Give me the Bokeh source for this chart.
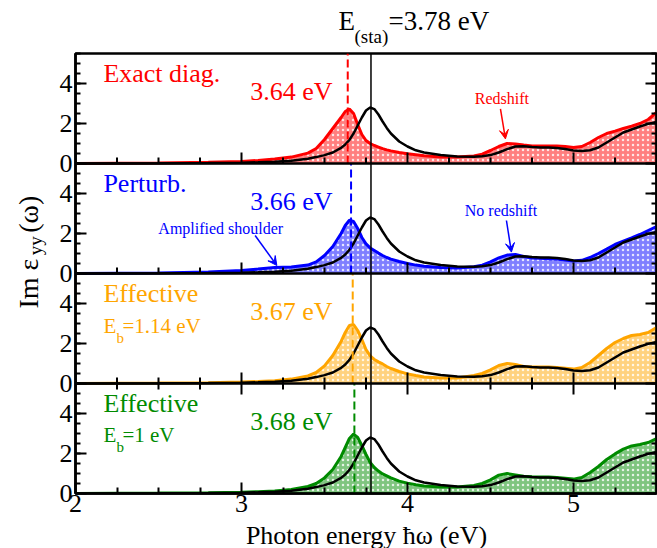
import numpy as np
from bokeh.plotting import figure
from bokeh.layouts import column, row
from bokeh.models import (Range1d, FixedTicker, CustomJSTickFormatter, LinearAxis,
                          Span, Label, Arrow, VeeHead)
from bokeh.core.properties import value
from bokeh.embed import file_html
from bokeh.resources import INLINE

# ---------------- data ----------------
energy = [2.0, 2.5, 2.8, 3.0, 3.1, 3.2, 3.3, 3.4, 3.45, 3.5, 3.55, 3.6, 3.625, 3.65,
          3.675, 3.7, 3.725, 3.75, 3.775, 3.8, 3.825, 3.85, 3.875, 3.9, 3.95, 4.0,
          4.05, 4.1, 4.2, 4.3, 4.4, 4.45, 4.5, 4.55, 4.6, 4.65, 4.7, 4.75, 4.8, 4.85,
          4.9, 4.95, 5.0, 5.05, 5.1, 5.15, 5.2, 5.25, 5.3, 5.35, 5.4, 5.45, 5.5]

static = [0.0, 0.01, 0.02, 0.04, 0.06, 0.09, 0.14, 0.24, 0.32, 0.42, 0.55, 0.78, 0.95, 1.18,
          1.5, 1.9, 2.3, 2.65, 2.8, 2.72, 2.45, 2.1, 1.78, 1.5, 1.1, 0.85,
          0.66, 0.55, 0.42, 0.35, 0.34, 0.36, 0.42, 0.55, 0.72, 0.85, 0.86, 0.82, 0.8, 0.8,
          0.78, 0.72, 0.65, 0.62, 0.66, 0.8, 1.05, 1.3, 1.55, 1.7, 1.85, 1.98, 2.08]

exact_diag = [0.0, 0.03, 0.06, 0.1, 0.15, 0.22, 0.32, 0.52, 0.75, 1.2, 1.75, 2.3, 2.6, 2.72,
              2.5, 1.95, 1.45, 1.15, 1.0, 0.9, 0.82, 0.74, 0.68, 0.63, 0.55, 0.49,
              0.44, 0.39, 0.33, 0.32, 0.38, 0.47, 0.65, 0.85, 1.0, 0.98, 0.92, 0.88, 0.88, 0.88,
              0.88, 0.85, 0.8, 0.85, 1.05, 1.3, 1.5, 1.62, 1.75, 1.87, 2.0, 2.2, 2.55]

perturb = [0.0, 0.03, 0.08, 0.15, 0.22, 0.3, 0.32, 0.42, 0.58, 0.9, 1.35, 2.0, 2.4, 2.66,
           2.6, 2.25, 1.8, 1.48, 1.28, 1.15, 1.02, 0.9, 0.8, 0.72, 0.6, 0.5,
           0.42, 0.36, 0.3, 0.28, 0.34, 0.42, 0.58, 0.78, 0.92, 0.95, 0.85, 0.78, 0.76, 0.74,
           0.72, 0.68, 0.62, 0.66, 0.8, 1.0, 1.22, 1.45, 1.62, 1.78, 1.95, 2.15, 2.35]

effective_114 = [0.0, 0.02, 0.04, 0.07, 0.1, 0.14, 0.22, 0.38, 0.55, 0.88, 1.4, 2.1, 2.55, 2.9,
                 2.95, 2.65, 2.2, 1.7, 1.38, 1.2, 1.08, 0.98, 0.85, 0.75, 0.6, 0.48,
                 0.4, 0.33, 0.28, 0.28, 0.4, 0.5, 0.68, 0.9, 1.0, 0.95, 0.85, 0.83, 0.82, 0.82,
                 0.8, 0.76, 0.72, 0.8, 1.05, 1.4, 1.75, 2.05, 2.25, 2.4, 2.45, 2.55, 2.8]

effective_100 = [0.0, 0.02, 0.04, 0.06, 0.09, 0.13, 0.2, 0.35, 0.5, 0.78, 1.2, 1.85, 2.3, 2.75,
                 2.97, 2.8, 2.4, 1.95, 1.55, 1.3, 1.12, 0.98, 0.88, 0.78, 0.62, 0.52,
                 0.44, 0.38, 0.33, 0.32, 0.4, 0.5, 0.68, 0.92, 1.0, 0.93, 0.86, 0.84, 0.83, 0.82,
                 0.8, 0.76, 0.72, 0.8, 1.05, 1.35, 1.7, 1.98, 2.22, 2.38, 2.45, 2.55, 2.75]

E_static = 3.78
peak_energies = [3.64, 3.66, 3.67, 3.68]
panel_series = [exact_diag, perturb, effective_114, effective_100]
panel_names = ["Exact diag.", "Perturb.", "Effective", "Effective"]
eb_values = [None, None, "=1.14 eV", "=1 eV"]
colors = ["#ff0000", "#0000ff", "#ffa500", "#008b00"]
x_ticks = [2, 3, 4, 5]
y_ticks = [0, 2, 4]
PANEL_TOP = 5.5

FONT = "Liberation Serif"
MID = 0.3375          # baseline -> middle shift, in em, for Liberation Serif
N = len(panel_series)

W_TOTAL, H_TOTAL = 657, 548
TITLE_H = 52
YLAB_W = 50
MAIN_H = 471
XLAB_H = H_TOTAL - TITLE_H - MAIN_H
MAIN_W = W_TOTAL - YLAB_W
PX_PER_Y = 20.0       # 440 px frame / 22 units


def strip(w, h):
    f = figure(width=w, height=h, x_range=Range1d(0, w), y_range=Range1d(0, h), title=None,
               output_backend="svg", toolbar_location=None, x_axis_type=None, y_axis_type=None,
               min_border=0, min_border_left=0, min_border_right=0, min_border_top=0, min_border_bottom=0)
    f.outline_line_color = None
    f.xgrid.visible = False
    f.ygrid.visible = False
    return f


def txt(fig, x, y_base, s, size, color="black", align="left", angle=0.0):
    """draw text with its baseline at y_base (in pixel strip coords, y up)"""
    if angle == 0.0:
        xx, yy = x, y_base + MID * size
    else:
        xx, yy = x - MID * size, y_base
    fig.text(x=[xx], y=[yy], text=[s], angle=angle, text_font=value(FONT),
             text_font_size=value("%dpx" % size), text_color=color,
             text_align=align, text_baseline="middle")


p = figure(width=MAIN_W, height=MAIN_H, x_range=Range1d(2, 5.5), y_range=Range1d(0, N * PANEL_TOP),
           output_backend="svg", toolbar_location=None, title=None,
           min_border_left=25, min_border_right=1, min_border_top=1, min_border_bottom=30)
p.xgrid.visible = False
p.ygrid.visible = False
p.outline_line_color = "black"
p.outline_line_width = 2.5
p.background_fill_color = "white"

# x axis
x_minor = [t + f for t in x_ticks for f in (0.25, 0.5, 0.75) if t + f < 5.5]
p.xaxis.ticker = FixedTicker(ticks=x_ticks, minor_ticks=x_minor)
p.xaxis.major_tick_in = 11
p.xaxis.major_tick_out = 0
p.xaxis.minor_tick_in = 6
p.xaxis.minor_tick_out = 0
p.xaxis.axis_line_width = 2.5
p.xaxis.major_tick_line_width = 2
p.xaxis.minor_tick_line_width = 2
p.xaxis.major_label_text_font = FONT
p.xaxis.major_label_text_font_size = "26px"
p.xaxis.major_label_text_color = "black"
p.xaxis.major_label_standoff = 1

# y axes (left with labels, right ticks only)
y_major = [k * PANEL_TOP + t for k in range(N) for t in y_ticks]
y_minor = [k * PANEL_TOP + 0.5 * j for k in range(N) for j in range(1, 12)]
p.yaxis.ticker = FixedTicker(ticks=y_major, minor_ticks=y_minor)
p.yaxis.formatter = CustomJSTickFormatter(code="return String(Math.round(tick % 5.5));")
ax = p.yaxis[0]
ax.major_tick_in = 11
ax.major_tick_out = 0
ax.minor_tick_in = 5
ax.minor_tick_out = 0
ax.axis_line_width = 2.5
ax.major_tick_line_width = 2
ax.minor_tick_line_width = 2
ax.major_label_text_font = FONT
ax.major_label_text_font_size = "26px"
ax.major_label_text_color = "black"
ax.major_label_standoff = 3

rax = LinearAxis(ticker=FixedTicker(ticks=y_major, minor_ticks=y_minor),
                 formatter=CustomJSTickFormatter(code="return '';"),
                 major_tick_in=11, major_tick_out=0, minor_tick_in=5, minor_tick_out=0,
                 axis_line_width=2.5, major_tick_line_width=2, minor_tick_line_width=2,
                 major_label_standoff=0)
p.add_layout(rax, "right")

for k in range(1, N):
    p.add_layout(Span(location=k * PANEL_TOP, dimension="width", line_color="black", line_width=2.5))

p.add_layout(Span(location=E_static, dimension="height", line_color="black", line_width=1.5))


def dy(size):
    return MID * size / PX_PER_Y


for i in range(N):
    lo = PANEL_TOP * (N - 1 - i)
    sub = p.subplot(x_source=p.x_range, y_source=Range1d(0, PANEL_TOP),
                    x_target=p.x_range, y_target=Range1d(lo, lo + PANEL_TOP))
    col = colors[i]
    vals = panel_series[i]
    sub.varea(x=energy, y1=[0] * len(energy), y2=vals, fill_color=col, fill_alpha=0.5,
              hatch_pattern="dot", hatch_color="white", hatch_scale=5, hatch_weight=1.5, hatch_alpha=0.8)
    sub.line(energy, vals, line_color=col, line_width=3)
    sub.line(energy, static, line_color="black", line_width=2.5)
    sub.segment(x0=[peak_energies[i]], y0=[0], x1=[peak_energies[i]], y1=[PANEL_TOP],
                line_color=col, line_width=2, line_dash="8 4")
    if i < N - 1:
        sub.segment(x0=x_ticks, y0=[0] * len(x_ticks), x1=x_ticks, y1=[0.55] * len(x_ticks),
                    line_color="black", line_width=2)
        sub.segment(x0=x_minor, y0=[0] * len(x_minor), x1=x_minor, y1=[0.3] * len(x_minor),
                    line_color="black", line_width=2)
    else:
        sub.segment(x0=x_ticks, y0=[PANEL_TOP] * len(x_ticks), x1=x_ticks, y1=[PANEL_TOP - 0.55] * len(x_ticks),
                    line_color="black", line_width=2)
        sub.segment(x0=x_minor, y0=[PANEL_TOP] * len(x_minor), x1=x_minor, y1=[PANEL_TOP - 0.3] * len(x_minor),
                    line_color="black", line_width=2)

    sub.text(x=[2.168], y=[4.07 + dy(26)], text=[panel_names[i]], text_color=col,
             text_font=value(FONT), text_font_size=value("26px"),
             text_align="left", text_baseline="middle")
    sub.text(x=[3.052], y=[3.15 + dy(26)], text=["%.2f eV" % peak_energies[i]], text_color=col,
             text_font=value(FONT), text_font_size=value("26px"),
             text_align="left", text_baseline="middle")
    if eb_values[i] is not None:
        yb = 2.5 if i == 2 else 2.55
        sub.text(x=[2.168], y=[yb + dy(21)], text=["E"], text_color=col,
                 text_font=value(FONT), text_font_size=value("21px"),
                 text_align="left", text_baseline="middle")
        sub.text(x=[2.2466], y=[yb - 0.5 + dy(15)], text=["b"], text_color=col,
                 text_font=value(FONT), text_font_size=value("15px"),
                 text_align="left", text_baseline="middle")
        sub.text(x=[2.2826], y=[yb + dy(21)], text=[eb_values[i]], text_color=col,
                 text_font=value(FONT), text_font_size=value("21px"),
                 text_align="left", text_baseline="middle")


def off(i):
    return PANEL_TOP * (N - 1 - i)


notes = [
    (0, "Redshift", 4.405, 2.98, (4.56, 2.73, 4.59, 1.23)),
    (1, "No redshift", 4.345, 2.9, (4.596, 2.65, 4.626, 1.07)),
    (1, "Amplified shoulder", 2.499, 1.98, (3.082, 1.9, 3.213, 0.4)),
]
for i, s, tx, ty, (xs, ys, xe, ye) in notes:
    p.add_layout(Label(x=tx, y=ty + off(i) + dy(16), text=s, text_color=colors[i], text_font=FONT,
                       text_font_size="16px", text_align="left", text_baseline="middle"))
    p.add_layout(Arrow(x_start=xs, y_start=ys + off(i), x_end=xe, y_end=ye + off(i),
                       line_color=colors[i], line_width=1.5,
                       end=VeeHead(size=9, line_color=colors[i], fill_color=colors[i], line_width=1)))

# ---- title strip: E_(sta)=3.78 eV ----
t = strip(W_TOTAL, TITLE_H)
txt(t, 338, TITLE_H - 30, "E", 27)
txt(t, 354, TITLE_H - 42, "(sta)", 19)
txt(t, 388, TITLE_H - 30, "=%.2f eV" % E_static, 27)

# ---- y label strip: Im ε_yy(ω) ----
yl = strip(YLAB_W, MAIN_H)
ang = np.pi / 2
txt(yl, 37, (TITLE_H + MAIN_H) - 325, "Im ε", 28, angle=ang)
txt(yl, 41, (TITLE_H + MAIN_H) - 268, "yy", 19, angle=ang)
txt(yl, 37, (TITLE_H + MAIN_H) - 244, "(ω)", 28, angle=ang)

# ---- x label strip ----
xl = strip(W_TOTAL, XLAB_H)
txt(xl, 366, H_TOTAL - 544, "Photon energy ħω (eV)", 26, align="center")

layout = column(t, row(yl, p), xl)
open("out.html", "w").write(file_html(layout, INLINE))
